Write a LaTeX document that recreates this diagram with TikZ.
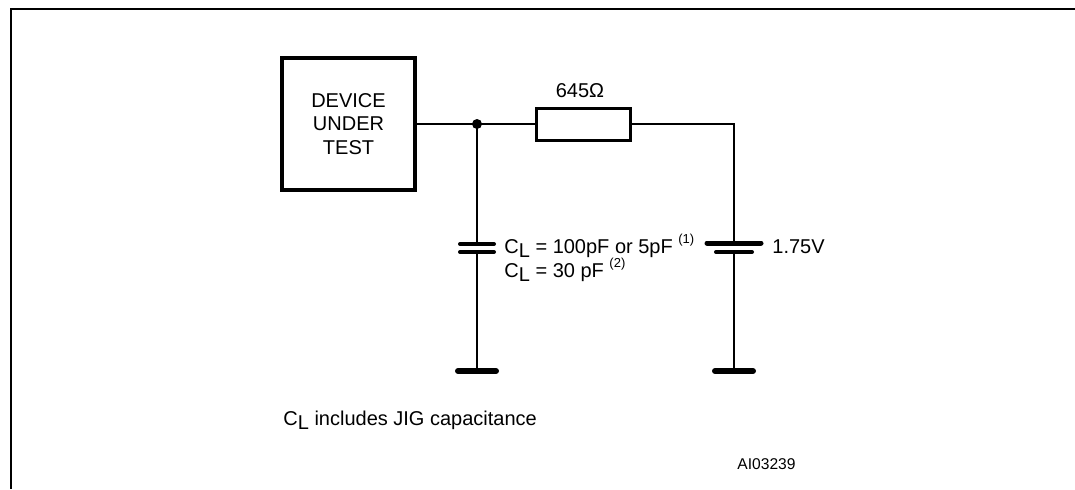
\documentclass[tikz,border=0pt]{standalone}
\usepackage{fontspec}
\setmainfont{Liberation Sans}
\usetikzlibrary{positioning}
\newcommand{\loadC}{C\raisebox{-0.45ex}{L}}
\newcommand{\noteref}[1]{\raisebox{0.9ex}{\fontsize{6.5}{6.5}\selectfont(#1)}}

\begin{document}
\begin{tikzpicture}[x=0.5pt, y=-0.5pt, font=\fontsize{10}{11.75}\selectfont,
    wire/.style={draw=black, line width=1pt},
    plate/.style={draw=black, line width=2pt, line cap=round},
    gndbar/.style={draw=black, line width=3pt, line cap=round}]
  \useasboundingbox (0,0) rectangle (1075,489);
  % frame
  \draw[line width=1pt] (1075,9) -- (11,9) -- (11,489);
  \begin{scope}[every node/.style={draw, rectangle, inner sep=0pt}]
    \node (DUT)[line width=2pt, minimum width=66.5pt, minimum height=66pt, align=center] at (348.5,124) {DEVICE\\UNDER\\TEST};
    \node (R)[line width=1.5pt, minimum width=47pt, minimum height=16pt] at (583,124) {};
  \end{scope}
  \coordinate (J) at (477,124);
  \coordinate (Ctop) at (477,244);
  \coordinate (Cbot) at (477,252);
  \coordinate (Btop) at (734,243);
  \coordinate (Bbot) at (734,252);
  \coordinate (G1) at (477,371);
  \coordinate (G2) at (734,371);
  \begin{scope}[every edge/.style={wire}]
    \path (DUT) edge (J);
    \path (J) edge (R);
    \path (J) edge (Ctop);
    \path (Cbot) edge (G1);
    \path (Bbot) edge (G2);
  \end{scope}
  \draw[wire] (R.east) -| (Btop);
  \fill (J) circle (2.5pt);
  % capacitor and battery plates
  \draw[plate] ([xshift=-8.5pt]Ctop) -- ([xshift=8.5pt]Ctop);
  \draw[plate] ([xshift=-8.5pt]Cbot) -- ([xshift=8.5pt]Cbot);
  \draw[plate, line width=2.5pt] ([xshift=-13.5pt]Btop) -- ([xshift=13.5pt]Btop);
  \draw[plate] ([xshift=-9pt]Bbot) -- ([xshift=9pt]Bbot);
  % grounds
  \draw[gndbar] ([xshift=-9.5pt]G1) -- ([xshift=9.5pt]G1);
  \draw[gndbar] ([xshift=-9.5pt]G2) -- ([xshift=9.5pt]G2);
  % labels
  \begin{scope}[every node/.style={inner sep=0pt, anchor=base west}]
    \node (Rval)[anchor=base] at (580,97) {645Ω};
    \node (CLa) at (504,253) {\loadC{} = 100pF or 5pF \noteref{1}};
    \node (CLb) at (504,277) {\loadC{} = 30 pF \noteref{2}};
    \node (Vval) at (772,253) {1.75V};
    \node (jig) at (283,425) {\loadC{} includes JIG capacitance};
    \node (ref)[font=\fontsize{7.8}{9}\selectfont] at (737,469) {AI03239};
  \end{scope}
\end{tikzpicture}
\end{document}
